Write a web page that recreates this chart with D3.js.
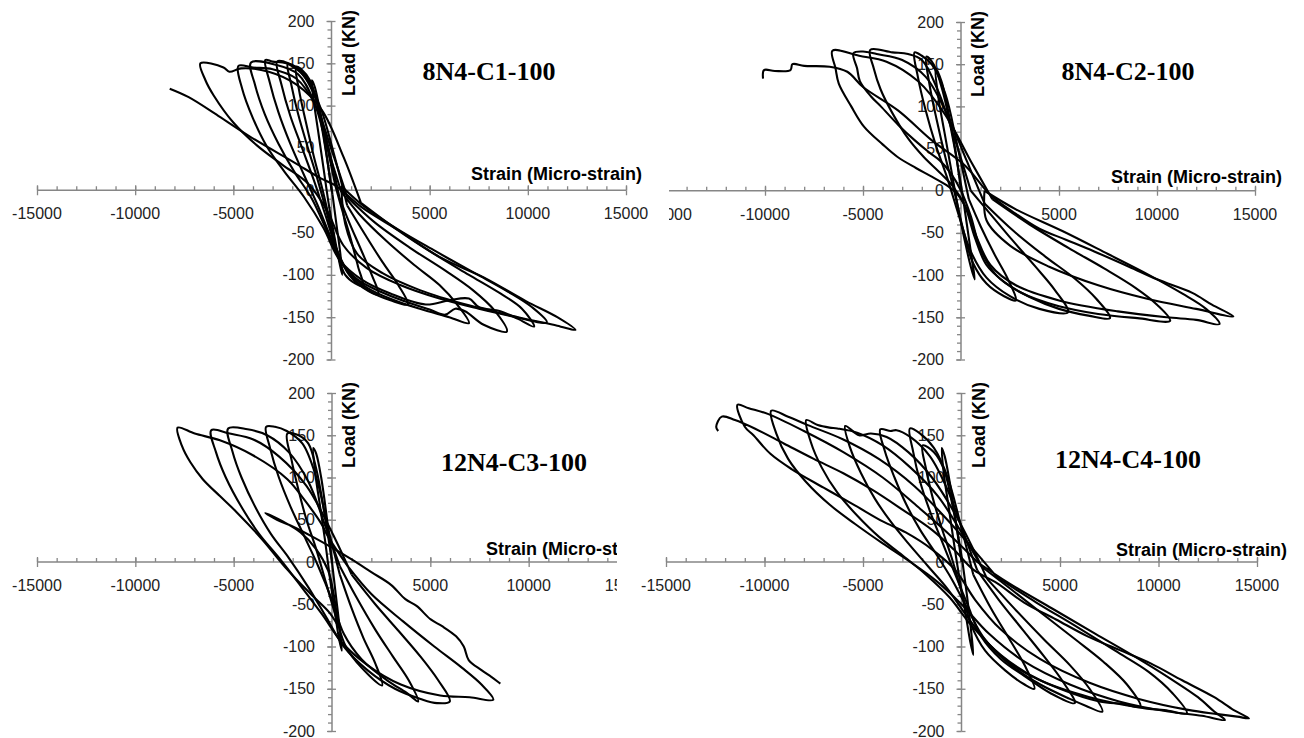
<!DOCTYPE html>
<html>
<head>
<meta charset="utf-8">
<script src="https://cdnjs.cloudflare.com/ajax/libs/d3/7.8.5/d3.min.js"></script>
<style>
body { margin: 0; background: #fff; }
svg { display: block; }
</style>
</head>
<body>
<svg width="1304" height="738"></svg>
<script>
// tick labels and titles
var xTicks = [-15000, -10000, -5000, 5000, 10000, 15000];
var yTicks = [200, 150, 100, 50, 0, -50, -100, -150, -200];
var xTitle = "Strain (Micro-strain)";
var yTitle = "Load (KN)";
var specimens = ["8N4-C1-100", "8N4-C2-100", "12N4-C3-100", "12N4-C4-100"];

// hysteresis cycles, [strain, load]
var c1Cycles = [
    [[0,0],[-300,50],[-600,95],[-850,122],[-1000,130],[-900,105],[-650,65],[-400,25],[-150,-15],[150,-55],[400,-85],[550,-100],[450,-75],[250,-40],[50,-5]],
    [[50,-5],[-350,55],[-750,105],[-1100,130],[-1500,142],[-1800,146],[-1650,118],[-1300,80],[-900,40],[-450,0],[-50,-40],[300,-75],[700,-100],[1200,-110],[1600,-113],[1350,-90],[950,-55],[500,-20],[200,5]],
    [[200,5],[-300,60],[-800,110],[-1400,138],[-2000,148],[-2230,149],[-2050,125],[-1700,90],[-1200,50],[-700,12],[-200,-30],[300,-72],[900,-100],[1600,-115],[2380,-123],[2050,-100],[1500,-70],[900,-38],[400,-8]],
    [[400,-8],[-200,55],[-800,108],[-1500,138],[-2200,150],[-2770,152],[-2550,125],[-2100,88],[-1500,50],[-900,12],[-300,-30],[300,-72],[1000,-102],[2000,-120],[3000,-130],[3885,-135],[3400,-112],[2600,-85],[1700,-52],[800,-18]],
    [[800,-18],[100,45],[-600,100],[-1400,135],[-2300,150],[-3000,152],[-3370,154],[-3150,128],[-2700,92],[-2100,55],[-1400,18],[-700,-18],[0,-58],[700,-92],[1800,-115],[3200,-130],[4500,-140],[6000,-150],[7000,-157],[6400,-135],[5500,-112],[4200,-88],[2800,-60],[1400,-28],[500,-2]],
    [[500,-2],[-200,50],[-900,105],[-1700,137],[-2800,148],[-4100,151],[-3900,125],[-3400,90],[-2700,55],[-1900,22],[-1000,-10],[-200,-50],[500,-85],[1300,-105],[2500,-120],[3700,-131],[5000,-141],[5800,-147],[6300,-140],[6800,-143],[7750,-159],[8930,-167],[8300,-142],[7200,-118],[5800,-95],[4000,-68],[2200,-38],[800,-8]],
    [[800,-8],[0,48],[-800,100],[-1800,132],[-3000,143],[-4000,145],[-4740,147],[-4550,120],[-4000,85],[-3300,52],[-2400,22],[-1400,-8],[-400,-45],[400,-82],[1500,-105],[3000,-122],[4800,-135],[6000,-130],[7000,-128],[7500,-138],[8600,-143],[9500,-152],[10320,-161],[9700,-140],[8600,-122],[7000,-100],[5200,-75],[3300,-46],[1500,-15]],
    [[1500,-15],[600,40],[-500,95],[-1800,125],[-3200,140],[-4600,144],[-5200,140],[-5500,145],[-6675,150],[-6420,130],[-6000,112],[-5000,80],[-3800,53],[-2500,30],[-1200,8],[-200,-25],[600,-65],[1800,-92],[3500,-112],[5500,-128],[7500,-140],[9000,-148],[10966,-156],[10200,-138],[9000,-120],[7300,-98],[5300,-72],[3300,-45],[1600,-18],[500,5]],
    [[500,5],[700,-40],[1300,-75],[2600,-98],[4500,-118],[7000,-136],[9500,-150],[11500,-160],[12425,-165],[11500,-150],[9900,-131],[7750,-103],[5600,-80],[3460,-48],[1530,-20],[240,5],[-620,15],[-1910,33],[-4055,62],[-5770,88],[-7275,110],[-8240,120]]
];

var c2Cycles = [
    [[0,0],[-300,50],[-700,100],[-1000,130],[-1300,145],[-1150,110],[-850,70],[-500,25],[-150,-20],[200,-60],[500,-90],[700,-105],[550,-80],[300,-40],[50,0]],
    [[50,0],[-400,60],[-900,115],[-1400,150],[-1770,159],[-1600,125],[-1250,85],[-800,40],[-350,0],[100,-45],[600,-85],[1300,-110],[2200,-125],[2800,-130],[2400,-105],[1700,-75],[1000,-42],[400,-10]],
    [[400,-10],[-200,55],[-800,115],[-1500,150],[-2000,160],[-2370,164],[-2200,135],[-1800,95],[-1300,55],[-700,15],[-100,-30],[500,-72],[1300,-103],[2500,-125],[4000,-140],[5460,-144],[4800,-118],[3800,-90],[2600,-58],[1300,-22],[500,0]],
    [[500,0],[-300,60],[-1200,120],[-2000,155],[-2700,162],[-3500,164],[-4630,167],[-4450,145],[-4100,120],[-3500,92],[-2700,62],[-1900,40],[-1100,22],[-400,5],[200,-18],[700,-55],[1300,-88],[2200,-108],[3500,-126],[5000,-140],[6500,-148],[7600,-151],[6900,-128],[5800,-104],[4300,-78],[2700,-48],[1200,-15]],
    [[1200,-15],[300,35],[-700,90],[-1800,135],[-3000,155],[-4300,162],[-5000,165],[-5490,163],[-5300,145],[-5160,130],[-4600,112],[-4090,100],[-3200,78],[-2370,60],[-1600,45],[-1085,36],[-500,20],[0,0],[500,-30],[1000,-70],[1800,-100],[3000,-120],[5000,-137],[7000,-146],[9000,-151],[10670,-154],[10000,-135],[8900,-115],[7300,-92],[5500,-68],[3500,-40],[1600,-10]],
    [[1600,-10],[500,35],[-800,90],[-2200,130],[-3800,153],[-5200,160],[-6560,166],[-6400,145],[-6236,127],[-5600,100],[-4950,76],[-4000,55],[-3234,40],[-2300,27],[-1517,17],[-700,6],[-227,-3],[300,-22],[800,-55],[1500,-88],[2800,-112],[5000,-130],[8000,-143],[10500,-150],[12000,-153],[13190,-158],[12500,-140],[11300,-122],[9600,-100],[7500,-75],[5200,-48],[2800,-22],[1200,0]],
    [[1200,0],[1300,-35],[2500,-65],[4500,-90],[7000,-112],[9500,-128],[12000,-140],[13900,-149],[12800,-135],[11800,-121],[10000,-105],[8570,-90],[6800,-72],[5350,-58],[4000,-45],[2780,-27],[1500,-5],[200,30],[-1500,60],[-3200,95],[-5000,123],[-5800,141],[-6700,147],[-8000,148],[-8600,150],[-8700,143],[-9500,142],[-10050,143],[-10100,133]]
];

var c3Cycles = [
    [[0,0],[-250,50],[-550,100],[-800,128],[-950,135],[-850,105],[-600,65],[-350,25],[-100,-20],[150,-60],[350,-90],[500,-105],[400,-80],[200,-40],[0,0]],
    [[0,0],[-400,60],[-800,110],[-1200,140],[-1700,150],[-2270,152],[-2050,120],[-1700,85],[-1300,50],[-800,15],[-300,-25],[200,-65],[700,-100],[1500,-125],[2550,-146],[2200,-120],[1600,-90],[1000,-55],[400,-15]],
    [[400,-15],[-200,40],[-800,100],[-1500,140],[-2300,155],[-2900,160],[-3350,160],[-3150,135],[-2700,100],[-2100,65],[-1400,30],[-700,-5],[0,-45],[600,-85],[1500,-115],[2800,-140],[3800,-155],[4380,-165],[3900,-140],[3100,-112],[2200,-80],[1200,-40],[400,-5]],
    [[400,-5],[-300,40],[-1200,95],[-2200,130],[-3300,150],[-4300,157],[-5280,158],[-5050,130],[-4600,100],[-3900,65],[-3100,33],[-2200,5],[-1200,-30],[-300,-65],[600,-100],[1800,-128],[3200,-150],[4500,-162],[5340,-167],[5990,-165],[5400,-140],[4500,-112],[3400,-82],[2200,-50],[1000,-15]],
    [[1000,-15],[0,35],[-1300,90],[-2700,125],[-4000,145],[-5200,152],[-6140,156],[-5900,130],[-5400,100],[-4600,65],[-3700,33],[-2700,5],[-1600,-28],[-500,-62],[500,-95],[1800,-122],[3500,-145],[5500,-158],[7000,-160],[8200,-163],[7600,-145],[6600,-125],[5200,-100],[3600,-70],[2000,-38],[800,-5]],
    [[800,-5],[-200,30],[-560,46],[-1420,74],[-2270,98],[-4000,126],[-5700,144],[-6980,152],[-7850,159],[-7640,138],[-7200,118],[-6570,98],[-5700,78],[-4850,59],[-3560,27],[-2270,-9],[-990,-40],[-130,-60],[300,-75]],
    [[300,-75],[100,-40],[-200,-10],[-800,15],[-1600,35],[-2500,48],[-3390,58],[-2800,50],[-2000,42],[-1000,30],[0,17],[1000,3],[2000,-12],[3000,-27],[3730,-44],[4300,-52],[5020,-68],[5600,-76],[6310,-88],[6700,-100],[6950,-116],[7600,-128],[8100,-136],[8450,-142],[8560,-144]]
];

var c4Cycles = [
    [[0,0],[-300,50],[-600,95],[-850,125],[-1000,135],[-900,105],[-650,65],[-400,25],[-100,-20],[200,-60],[450,-95],[600,-110],[480,-80],[280,-40],[50,0]],
    [[50,0],[-400,60],[-900,110],[-1400,130],[-1970,138],[-1800,110],[-1450,75],[-1000,40],[-500,5],[0,-35],[500,-75],[1200,-105],[2200,-128],[3200,-145],[3700,-150],[3200,-122],[2400,-90],[1500,-55],[600,-15]],
    [[600,-15],[0,40],[-700,100],[-1400,135],[-2100,152],[-2620,158],[-2450,130],[-2100,95],[-1600,60],[-1000,25],[-400,-10],[300,-50],[1000,-88],[2000,-115],[3200,-135],[4500,-155],[5750,-167],[5100,-140],[4200,-112],[3100,-80],[1900,-45],[800,-10]],
    [[800,-10],[100,35],[-700,85],[-1600,125],[-2600,148],[-3300,156],[-3600,155],[-4120,157],[-3900,132],[-3400,100],[-2800,68],[-2100,38],[-1300,10],[-500,-20],[300,-55],[1200,-92],[2500,-122],[4000,-145],[5500,-162],[6300,-170],[7150,-177],[6500,-150],[5500,-122],[4200,-92],[2800,-58],[1300,-20]],
    [[1300,-20],[500,20],[-400,60],[-1500,100],[-2700,130],[-3800,148],[-4600,152],[-5200,150],[-5900,161],[-5650,135],[-5100,105],[-4400,75],[-3600,48],[-2700,22],[-1700,-5],[-700,-32],[300,-65],[1500,-100],[3000,-128],[5000,-150],[7000,-165],[8200,-168],[9080,-171],[8400,-145],[7200,-118],[5800,-92],[4200,-63],[2500,-32],[1000,-5]],
    [[1000,-5],[0,35],[-1200,78],[-2600,112],[-4000,138],[-5300,153],[-6300,158],[-6700,159],[-7300,162],[-7880,168],[-7650,142],[-7100,112],[-6300,82],[-5300,55],[-4200,30],[-3000,8],[-1800,-15],[-600,-42],[500,-75],[2000,-110],[4000,-140],[6500,-160],[9000,-172],[10500,-176],[11440,-179],[10700,-155],[9500,-130],[7800,-105],[5800,-76],[3800,-48],[1800,-18]],
    [[1800,-18],[600,15],[-800,52],[-2400,90],[-4200,122],[-6000,145],[-7800,162],[-8800,172],[-9660,179],[-9400,152],[-8800,122],[-7900,95],[-6700,68],[-5400,45],[-4000,22],[-2600,0],[-1300,-22],[0,-50],[1400,-85],[3200,-118],[5500,-145],[8000,-165],[10500,-177],[12200,-182],[13370,-187],[12830,-177],[12000,-160],[10600,-138],[8800,-112],[6800,-85],[4600,-55],[2400,-25],[800,0]],
    [[800,0],[-500,30],[-2200,65],[-4000,100],[-6000,130],[-8000,155],[-9800,175],[-10800,182],[-11370,186],[-11000,160],[-10560,150],[-9700,128],[-8630,110],[-7000,88],[-5410,67],[-4000,48],[-2830,35],[-1500,15],[-300,-10],[700,-45],[2000,-80],[4000,-115],[6500,-143],[9000,-162],[11500,-175],[13000,-180],[14000,-183],[14590,-185],[13800,-175],[12830,-160],[11200,-140],[9600,-120],[8000,-104],[6400,-88],[4800,-68],[3180,-48],[1800,-25],[600,-9],[-400,15],[-1500,38],[-3000,62],[-4500,85],[-6000,105],[-7500,122],[-9000,140],[-10500,158],[-11500,168],[-12170,172],[-12450,160],[-12350,155]]
];

var panels = [
    { name: specimens[0], cycles: c1Cycles, clip: [0, 0, 660, 369], xr: [37, 626], yr: [359.5, 21],
      tx: 489, ty: 80, sx: 471, sy: 180 },
    { name: specimens[1], cycles: c2Cycles, clip: [669, 0, 635, 369], xr: [667, 1255], yr: [359.5, 22],
      tx: 1128, ty: 80, sx: 1111, sy: 183 },
    { name: specimens[2], cycles: c3Cycles, clip: [0, 369, 617, 369], xr: [37, 627], yr: [731, 393],
      tx: 514, ty: 471, sx: 486, sy: 555 },
    { name: specimens[3], cycles: c4Cycles, clip: [620, 369, 684, 369], xr: [666, 1257], yr: [731, 393],
      tx: 1128, ty: 468, sx: 1116, sy: 556 }
];

var svg = d3.select("svg");
svg.append("rect").attr("width", 1304).attr("height", 738).attr("fill", "#fff");

var axisColor = "#868686";
var labelFont = "'Liberation Sans', Arial, sans-serif";

// keep only the characters of a text that fall inside [left, right]
function trimToClip(t, left, right) {
    var node = t.node();
    var s = node.textContent;
    var first = -1, last = -1;
    for (var k = 0; k < s.length; k++) {
        var ext = node.getExtentOfChar(k);
        if (ext.x + ext.width > left && ext.x < right) {
            if (first < 0) first = k;
            last = k;
        }
    }
    if (first <= 0 && last == s.length - 1) return;
    var startX = node.getExtentOfChar(first).x;
    t.attr("text-anchor", "start").attr("x", startX).text(s.substring(first, last + 1));
}

panels.forEach(function (p, i) {
    var x = d3.scaleLinear().domain([-15000, 15000]).range(p.xr);
    var y = d3.scaleLinear().domain([-200, 200]).range(p.yr);
    var x0 = x(0), y0 = y(0);
    var left = p.clip[0], right = p.clip[0] + p.clip[2];

    svg.append("clipPath").attr("id", "clip" + i)
        .append("rect")
        .attr("x", p.clip[0]).attr("y", p.clip[1])
        .attr("width", p.clip[2]).attr("height", p.clip[3]);

    var g = svg.append("g").attr("clip-path", "url(#clip" + i + ")");
    g.append("rect")
        .attr("x", p.clip[0]).attr("y", p.clip[1])
        .attr("width", p.clip[2]).attr("height", p.clip[3])
        .attr("fill", "#fff");

    // horizontal axis: minor ticks above, major ticks crossing
    var axes = [];
    axes.push(g.append("g").attr("transform", "translate(0," + y0 + ")")
        .call(d3.axisTop(x).tickValues(d3.range(-15000, 15001, 1000)).tickSize(4).tickFormat("")));
    axes.push(g.append("g").attr("transform", "translate(0," + y0 + ")")
        .call(d3.axisBottom(x).tickValues(d3.range(-15000, 15001, 5000)).tickSize(5).tickFormat("")));
    axes.push(g.append("g").attr("transform", "translate(0," + y0 + ")")
        .call(d3.axisTop(x).tickValues(d3.range(-15000, 15001, 5000)).tickSize(5).tickFormat("")));

    // vertical axis: minor ticks left, major ticks crossing
    axes.push(g.append("g").attr("transform", "translate(" + x0 + ",0)")
        .call(d3.axisLeft(y).tickValues(d3.range(-200, 201, 10)).tickSize(4).tickFormat("")));
    axes.push(g.append("g").attr("transform", "translate(" + x0 + ",0)")
        .call(d3.axisLeft(y).tickValues(yTicks).tickSize(5).tickFormat("")));
    axes.push(g.append("g").attr("transform", "translate(" + x0 + ",0)")
        .call(d3.axisRight(y).tickValues(yTicks).tickSize(4).tickFormat("")));

    axes.forEach(function (a) {
        a.select("path.domain").remove();
        a.selectAll("line").attr("stroke", axisColor).attr("stroke-width", 1.3);
    });

    g.append("line")
        .attr("x1", x(-15000)).attr("x2", x(15000))
        .attr("y1", y0).attr("y2", y0)
        .attr("stroke", axisColor).attr("stroke-width", 1.5);
    g.append("line")
        .attr("x1", x0).attr("x2", x0)
        .attr("y1", y(200)).attr("y2", y(-200))
        .attr("stroke", axisColor).attr("stroke-width", 1.5);

    // tick labels
    xTicks.forEach(function (v) {
        var t = g.append("text")
            .attr("x", x(v))
            .attr("y", y0 + 29)
            .attr("text-anchor", "middle")
            .attr("font-family", labelFont)
            .attr("font-size", "16px")
            .attr("fill", "#222")
            .text(v);
        trimToClip(t, left, right);
    });
    yTicks.forEach(function (v) {
        g.append("text")
            .attr("x", x0 - 17)
            .attr("y", y(v) + 5.5)
            .attr("text-anchor", "end")
            .attr("font-family", labelFont)
            .attr("font-size", "16px")
            .attr("fill", "#222")
            .text(v);
    });

    // the loops
    var line = d3.line()
        .x(function (d) { return x(d[0]); })
        .y(function (d) { return y(d[1]); })
        .curve(d3.curveCatmullRom.alpha(0.5));

    p.cycles.forEach(function (c) {
        g.append("path")
            .attr("d", line(c))
            .attr("fill", "none")
            .attr("stroke", "#000")
            .attr("stroke-width", 2.1)
            .attr("stroke-linejoin", "round");
    });

    // titles
    var st = g.append("text")
        .attr("x", p.sx)
        .attr("y", p.sy)
        .attr("font-family", labelFont)
        .attr("font-weight", "bold")
        .attr("font-size", "18px")
        .attr("fill", "#000")
        .text(xTitle);
    trimToClip(st, left, right);

    g.append("text")
        .attr("transform", "translate(" + (x0 + 23) + "," + (y(200) - 11) + ") rotate(-90)")
        .attr("text-anchor", "end")
        .attr("font-family", labelFont)
        .attr("font-weight", "bold")
        .attr("font-size", "18px")
        .attr("fill", "#000")
        .text(yTitle);

    g.append("text")
        .attr("x", p.tx)
        .attr("y", p.ty)
        .attr("text-anchor", "middle")
        .attr("font-family", "'Liberation Serif', 'Times New Roman', serif")
        .attr("font-weight", "bold")
        .attr("font-size", "26px")
        .attr("fill", "#000")
        .text(p.name);
});
</script>
</body>
</html>
